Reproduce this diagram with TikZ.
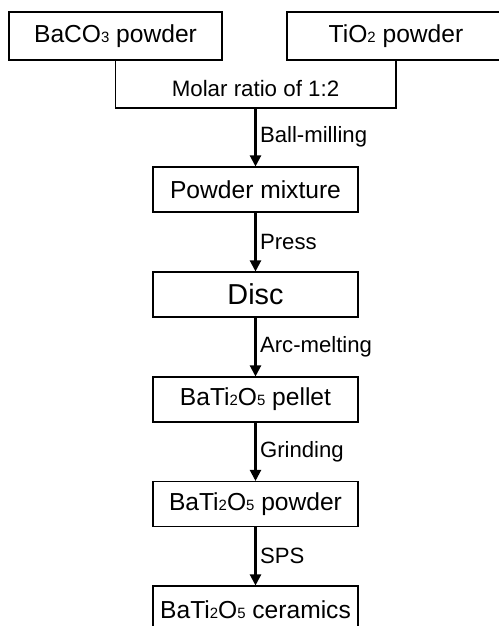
\documentclass[tikz,border=0pt]{standalone}
\usepackage{fontspec}
\setmainfont{Liberation Sans}
\usetikzlibrary{arrows.meta}
\newcommand{\sm}[1]{{\fontsize{8.5pt}{10pt}\selectfont #1}}

\begin{document}
\begin{tikzpicture}[
    x=0.02cm, y=-0.02cm,
    box/.style={draw, line width=0.6pt, minimum width=4.1cm,
                minimum height=0.9cm, inner sep=0pt,
                font=\fontsize{14pt}{16pt}\selectfont},
    topbox/.style={box, minimum height=0.96cm},
    flow/.style={-{Triangle[length=0.22cm, width=0.22cm]}, line width=1.2pt},
    lbl/.style={right, font=\fontsize{12.6pt}{15pt}\selectfont, inner sep=2pt}
]
\clip (0,0) rectangle (499,626);

\node[topbox, minimum width=4.26cm] (baco) at (115.5,36) {BaCO\sm{3} powder};
\node[topbox, minimum width=4.36cm] (tio)  at (396,36)   {TiO\sm{2} powder};
\node[font=\fontsize{12.7pt}{15pt}\selectfont] (ratio) at (255.5,89) {Molar ratio of 1:2};
\coordinate (ubot) at (255.5,108);

\node[box] (mix)    at (255.5,189.5) {Powder mixture};
\node[box, font=\fontsize{16.4pt}{19pt}\selectfont] (disc) at (255.5,294.5) {Disc};
\node[box] (pellet) at (255.5,399.5) {BaTi\sm{2}O\sm{5} pellet};
\node[box] (bpow)   at (255.5,504)   {BaTi\sm{2}O\sm{5} powder};
\node[topbox] (cer) at (255.5,610)   {BaTi\sm{2}O\sm{5} ceramics};

\draw[line width=0.6pt] (baco.south) |- (ubot) -| (tio.south);
\draw[flow] (ubot) -- node[lbl]{Ball-milling} (mix);
\draw[flow] (mix) -- node[lbl]{Press} (disc);
\draw[flow] (disc) -- node[lbl]{Arc-melting} (pellet);
\draw[flow] (pellet) -- node[lbl]{Grinding} (bpow);
\draw[flow] (bpow) -- node[lbl]{SPS} (cer);

\end{tikzpicture}
\end{document}
